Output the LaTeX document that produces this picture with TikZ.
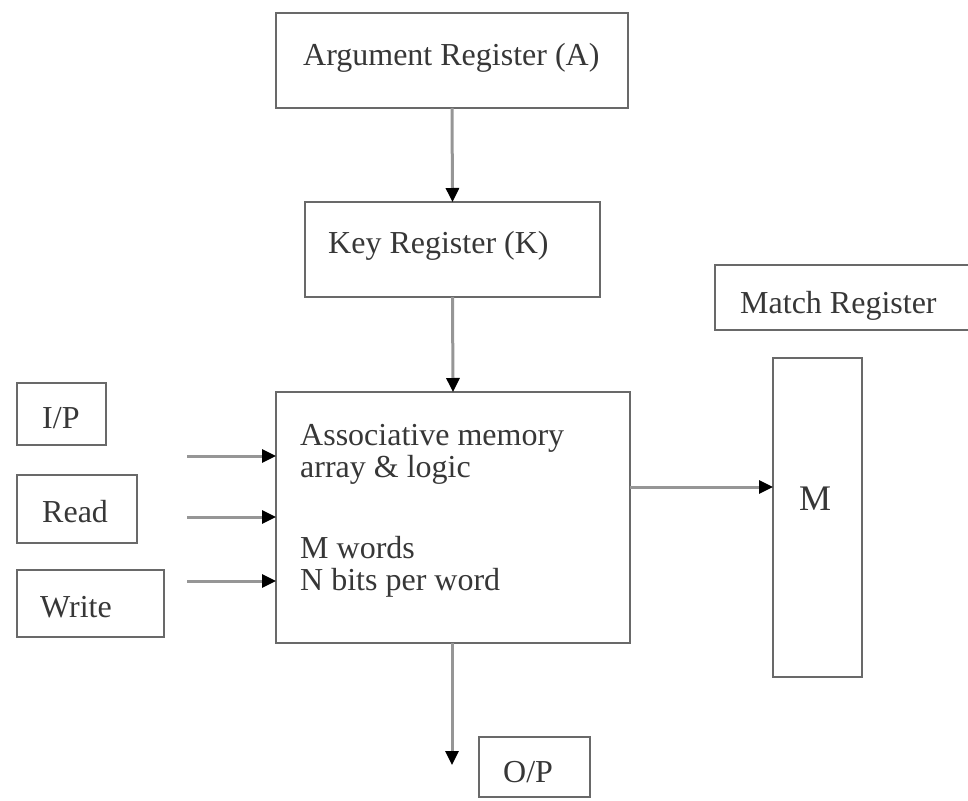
\documentclass[tikz,border=0pt]{standalone}
\usepackage{fontspec}
\setmainfont{Liberation Serif}
\usetikzlibrary{arrows.meta}
\definecolor{boxc}{RGB}{105,105,105}
\definecolor{linec}{RGB}{150,150,150}
\definecolor{txtc}{RGB}{55,55,55}
\begin{document}
\begin{tikzpicture}[x=1pt,y=-1pt,
  box/.style={draw=boxc, line width=2.6pt, inner sep=0pt, outer sep=0pt},
  lbl/.style={text=txtc, font=\fontsize{32}{33}\selectfont, inner sep=0pt, anchor=base west},
  conn/.style={draw=linec, line width=3pt, -{Triangle[length=14pt,width=13pt,fill=black,color=black]}}]
\useasboundingbox (0,0) rectangle (968,800);
% boxes
\node[box, minimum width=352pt, minimum height=95pt]  (arg)   at (452,60.5) {};
\node[box, minimum width=295pt, minimum height=95pt]  (key)   at (452.5,249.5) {};
\node[box, minimum width=354pt, minimum height=251pt] (assoc) at (453,517.5) {};
\node[box, minimum width=257pt, minimum height=65pt]  (match) at (843.5,297.5) {};
\node[box, minimum width=89pt,  minimum height=319pt] (mreg)  at (817.5,517.5) {};
\node[box, minimum width=89pt,  minimum height=62pt]  (ip)    at (61.5,414) {};
\node[box, minimum width=120pt, minimum height=68pt]  (read)  at (77,509) {};
\node[box, minimum width=147pt, minimum height=67pt]  (write) at (90.5,603.5) {};
\node[box, minimum width=111pt, minimum height=60pt]  (op)    at (534.5,767) {};
% texts
\node[lbl] (targ)   at (303,65)  {Argument Register (A)};
\node[lbl] (tkey)   at (328,253) {Key Register (K)};
\node[lbl] (ta1)    at (300,445) {Associative memory};
\node[lbl] (ta2)    at (300,477) {array \& logic};
\node[lbl] (ta3)    at (300,558) {M words};
\node[lbl] (ta4)    at (300,590) {N bits per word};
\node[lbl] (tmatch) at (740,313) {Match Register};
\node[lbl, anchor=base, font=\fontsize{36}{37}\selectfont] (tm) at (815,510) {M};
\node[lbl] (tip)    at (42,428)  {I/P};
\node[lbl] (tread)  at (42,522)  {Read};
\node[lbl] (twrite) at (40,617)  {Write};
\node[lbl] (top)    at (503,782) {O/P};
% connector free ends
\coordinate (ipS) at (187,456);
\coordinate (rdS) at (187,517);
\coordinate (wrS) at (187,581);
\coordinate (mS)  at (630,487);
\coordinate (opE) at (452,765);
% connectors
\draw[conn] (arg.south) -- (key.north);
\draw[conn] (key.south) -- (assoc.north);
\draw[conn] (ipS) -- (ipS -| assoc.west);
\draw[conn] (rdS) -- (rdS -| assoc.west);
\draw[conn] (wrS) -- (wrS -| assoc.west);
\draw[conn] (mS -| assoc.east) -- (mS -| mreg.west);
\draw[conn] (assoc.south -| opE) -- (opE);
\end{tikzpicture}
\end{document}
